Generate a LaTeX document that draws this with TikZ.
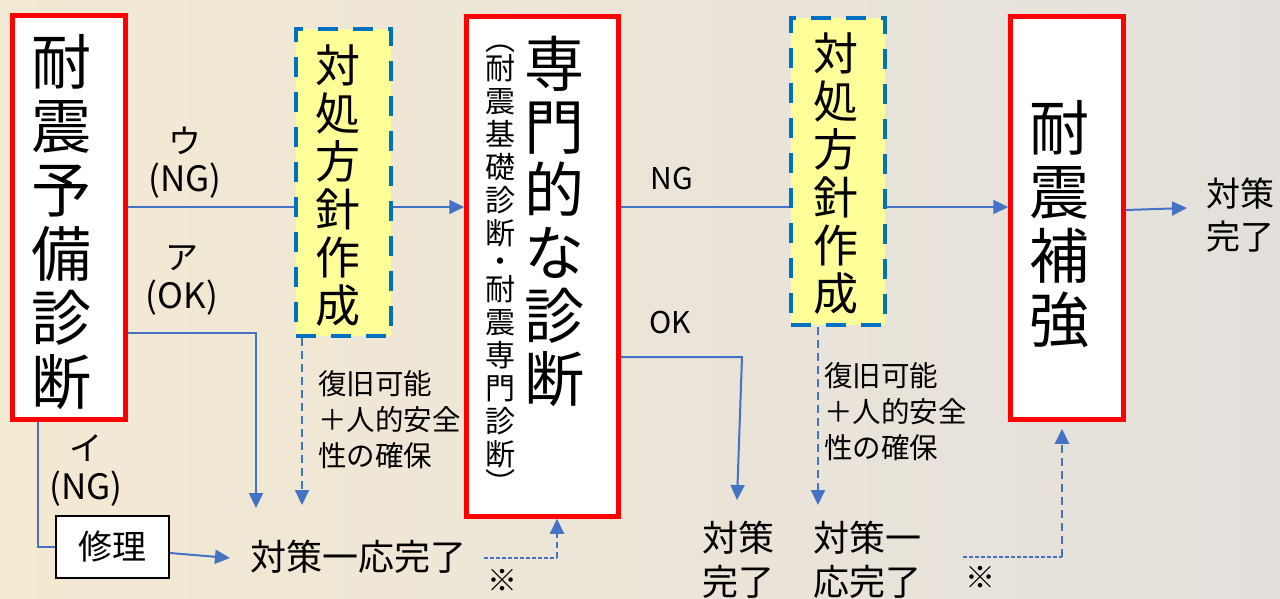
\documentclass[tikz,border=0pt]{standalone}
\usepackage{fontspec}
\newfontfamily\jp{Noto Sans CJK JP}
\usetikzlibrary{arrows.meta}
\definecolor{bgL}{HTML}{F4E9D3}
\definecolor{bgR}{HTML}{E3E0DC}
\definecolor{connc}{HTML}{4472C4}
\definecolor{dashblue}{HTML}{0070C0}
\definecolor{ylw}{HTML}{FFFF99}
\begin{document}
\begin{tikzpicture}[x=1pt,y=-1pt,
  redbox/.style={draw=red, line width=4.5pt, fill=white, inner sep=0},
  ybox/.style={draw=dashblue, line width=4.5pt, dash pattern=on 20pt off 15pt, fill=ylw, inner sep=0},
  plainbox/.style={draw=black, line width=1.8pt, fill=white, inner sep=0, font=\jp\fontsize{34}{40}\selectfont},
  txt/.style={font=\jp, inner sep=0, align=center, text=black},
  lbl/.style={font=\jp, inner sep=0, align=left, text=black},
  kana/.style={font=\jp\fontsize{33}{36}\selectfont, inner sep=0, text=black},
  conn/.style={draw=connc, line width=2pt},
  arr/.style={conn, -{Triangle[length=15pt,width=14pt]}},
  darr/.style={conn, dash pattern=on 8pt off 5pt, -{Triangle[length=15pt,width=14pt]}},
  dotc/.style={draw=connc, line width=1.8pt, dash pattern=on 3.5pt off 2.5pt},
]
\useasboundingbox (0,0) rectangle (1280,599);
\shade[left color=bgL, right color=bgR] (0,0) rectangle (1280,599);

% boxes
\node[redbox, minimum width=113pt, minimum height=404pt] (b1) at (69,217.5) {};
\node[ybox, minimum width=95pt, minimum height=307pt] (y1) at (343.5,182.5) {};
\node[redbox, minimum width=152pt, minimum height=500pt] (b2) at (542.5,266.5) {};
\node[ybox, minimum width=94pt, minimum height=307pt] (y2) at (838,171.5) {};
\node[redbox, minimum width=113pt, minimum height=403pt] (b3) at (1067,218) {};
\node[plainbox, minimum width=113pt, minimum height=62pt] (rep) at (112.5,547) {修理};

% box texts
\node[txt, font=\jp\fontsize{60}{64}\selectfont] (t1) at (61,222) {耐\\震\\予\\備\\診\\断};
\node[txt, font=\jp\fontsize{45}{48}\selectfont] (ty1) at (338,186) {対\\処\\方\\針\\作\\成};
\node[txt, font=\jp\fontsize{60}{63}\selectfont] (t2) at (554,221) {専\\門\\的\\な\\診\\断};
\node[txt, font=\jp\fontsize{30}{33}\selectfont] (t2s) at (500,270) {\char"FE35\\[-4pt]耐\\震\\基\\礎\\診\\断\\[-5pt]・\\[-5pt]耐\\震\\専\\門\\診\\断\\[-4pt]\char"FE36};
\node[txt, font=\jp\fontsize{45}{48}\selectfont] (ty2) at (836,174) {対\\処\\方\\針\\作\\成};
\node[txt, font=\jp\fontsize{60}{64}\selectfont] (t3) at (1059,224) {耐\\震\\補\\強};

% labels
\node[kana] (lu) at (185,141) {\char"30A6};
\node[txt, font=\jp\fontsize{35}{40}\selectfont] (lng1) at (185,181) {(NG)};
\node[kana] (la) at (182,258) {\char"30A2};
\node[txt, font=\jp\fontsize{35}{40}\selectfont] (lok1) at (182,298) {(OK)};
\node[kana] (li) at (86,448) {\char"30A4};
\node[txt, font=\jp\fontsize{35}{40}\selectfont] (lng2) at (86,489) {(NG)};
\node[txt, font=\jp\fontsize{30}{36}\selectfont] (lng3) at (672,179) {NG};
\node[txt, font=\jp\fontsize{30}{36}\selectfont] (lok2) at (670,323) {OK};
\node[lbl, font=\jp\fontsize{28.5}{36}\selectfont, anchor=north west] (lr1) at (318,370) {復旧可能\\＋人的安全\\性の確保};
\node[lbl, font=\jp\fontsize{28.5}{36}\selectfont, anchor=north west] (lr2) at (824,362) {復旧可能\\＋人的安全\\性の確保};

\node[txt, font=\jp\fontsize{36}{42}\selectfont] (k1) at (358,557) {対策一応完了};
\node[txt, font=\jp\fontsize{36}{44}\selectfont] (k2) at (738,560) {対策\\完了};
\node[txt, font=\jp\fontsize{36}{44}\selectfont, align=left] (k3) at (867,560) {対策一\\応完了};
\node[lbl, font=\jp\fontsize{34}{43}\selectfont, anchor=west] (k4) at (1206,215) {対策\\完了};
\node[txt, font=\jp\fontsize{30}{32}\selectfont] (s1) at (502,580) {※};
\node[txt, font=\jp\fontsize{30}{32}\selectfont] (s2) at (980,577) {※};

% coordinates
\coordinate (r1) at (0,207);
\coordinate (r2) at (0,333);
\coordinate (r3) at (0,357);
\coordinate (r4) at (0,210);
\coordinate (c1) at (256,508);
\coordinate (c2) at (302,505);
\coordinate (x38) at (38,0);
\coordinate (c4) at (230,558);
\coordinate (d1) at (484,558);
\coordinate (d2) at (557,558);
\coordinate (e1) at (742,357);
\coordinate (c5) at (737,500);
\coordinate (c6) at (818,505);
\coordinate (d3) at (963,557);
\coordinate (d4) at (1062,557);
\coordinate (c7) at (1187,208);

% connectors
\draw[conn] (b1.east |- r1) -- (y1.west |- r1);
\draw[arr] (y1.east |- r1) -- (b2.west |- r1);
\draw[arr] (b1.east |- r2) -| (c1);
\draw[darr] (y1.south -| c2) -- (c2);
\draw[conn] (b1.south -| x38) |- (rep.west);
\draw[arr] ([yshift=-6pt]rep.east) -- (c4);
\draw[dotc] (d1) -- (d2);
\draw[darr, dash pattern=on 6pt off 4pt] (d2) -- (b2.south -| d2);
\draw[conn] (b2.east |- r1) -- (y2.west |- r1);
\draw[arr] (y2.east |- r1) -- (b3.west |- r1);
\draw[arr] (b2.east |- r3) -- (e1) -- (c5);
\draw[darr] (y2.south -| c6) -- (c6);
\draw[dotc] (d3) -- (d4);
\draw[darr, shorten >=7pt] (d4) -- (b3.south -| d4);
\draw[arr] (b3.east |- r4) -- (c7);
\end{tikzpicture}
\end{document}
